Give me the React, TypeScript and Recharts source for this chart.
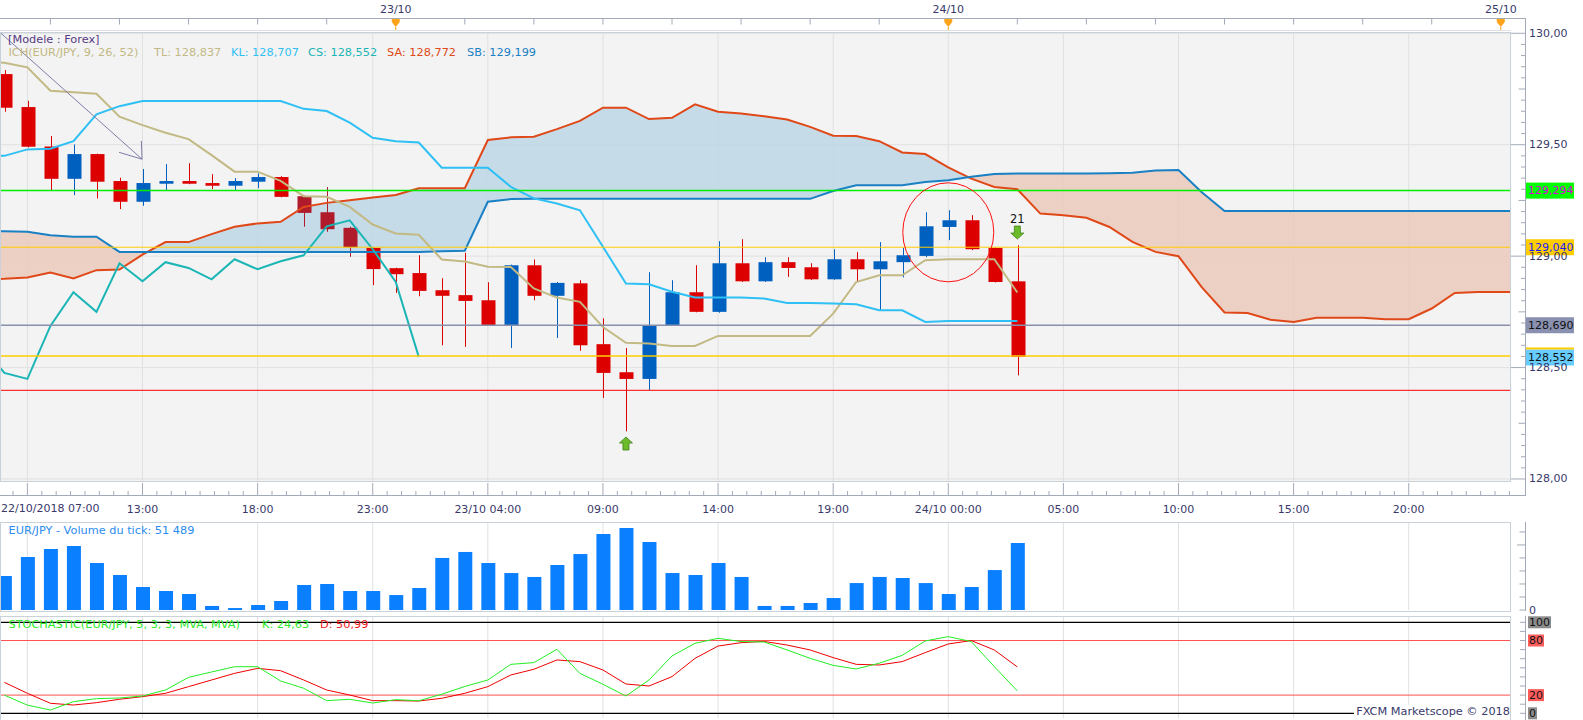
import {
  Area,
  Bar,
  CartesianGrid,
  ComposedChart,
  Line,
  ReferenceDot,
  ReferenceLine,
  XAxis,
  YAxis,
} from "recharts";

// hourly candles, index 0 = 22/10/2018 07:00
const candleOpen = [129.817, 129.669, 129.492, 129.347, 129.458, 129.337, 129.244, 129.325, 129.337, 129.328, 129.316, 129.334, 129.355, 129.269, 129.197, 129.127, 129.037, 128.946, 128.924, 128.847, 128.825, 128.802, 128.69, 128.959, 128.822, 128.878, 128.605, 128.479, 128.449, 128.69, 128.838, 128.75, 128.968, 128.887, 128.973, 128.95, 128.896, 128.986, 128.941, 128.973, 129.001, 129.131, 129.161, 129.037, 128.887];
const candleHigh = [129.835, 129.697, 129.539, 129.501, 129.46, 129.352, 129.391, 129.413, 129.417, 129.368, 129.35, 129.371, 129.359, 129.272, 129.31, 129.132, 129.04, 128.948, 129.004, 128.901, 129.015, 128.883, 128.962, 128.985, 128.884, 128.892, 128.721, 128.588, 128.928, 128.892, 128.959, 129.067, 129.076, 128.995, 128.995, 128.968, 129.031, 129.018, 129.063, 129.037, 129.197, 129.206, 129.184, 129.04, 129.049];
const candleLow = [129.648, 129.488, 129.296, 129.274, 129.259, 129.211, 129.226, 129.296, 129.323, 129.301, 129.296, 129.305, 129.264, 129.132, 129.109, 128.997, 128.87, 128.835, 128.82, 128.6, 128.593, 128.688, 128.588, 128.802, 128.633, 128.575, 128.364, 128.214, 128.398, 128.688, 128.748, 128.746, 128.884, 128.884, 128.907, 128.893, 128.894, 128.887, 128.757, 128.905, 128.995, 129.072, 129.027, 128.882, 128.465];
const candleClose = [129.666, 129.491, 129.347, 129.458, 129.334, 129.244, 129.328, 129.337, 129.325, 129.316, 129.337, 129.355, 129.266, 129.194, 129.121, 129.04, 128.942, 128.919, 128.844, 128.822, 128.799, 128.69, 128.959, 128.822, 128.88, 128.6, 128.476, 128.449, 128.687, 128.838, 128.75, 128.968, 128.887, 128.973, 128.947, 128.896, 128.986, 128.941, 128.977, 129.004, 129.134, 129.161, 129.031, 128.884, 128.548];
// candles highlighted by the pattern finder
const patternCandles = [13, 14, 15];

// ichimoku lines, first value is index -1 (just off the left edge)
const tenkan = [129.875, 129.868, 129.847, 129.742, 129.735, 129.729, 129.626, 129.588, 129.554, 129.525, 129.453, 129.379, 129.379, 129.338, 129.269, 129.266, 129.221, 129.142, 129.102, 129.096, 128.985, 128.976, 128.952, 128.951, 128.855, 128.814, 128.795, 128.682, 128.611, 128.608, 128.597, 128.597, 128.642, 128.642, 128.642, 128.642, 128.642, 128.742, 128.884, 128.914, 128.914, 128.982, 128.986, 128.986, 128.986, 128.837];
const kijun = [129.455, 129.45, 129.479, 129.482, 129.516, 129.636, 129.673, 129.696, 129.696, 129.696, 129.696, 129.696, 129.696, 129.696, 129.661, 129.651, 129.599, 129.531, 129.516, 129.51, 129.397, 129.397, 129.397, 129.311, 129.259, 129.236, 129.206, 129.042, 128.877, 128.874, 128.84, 128.814, 128.814, 128.814, 128.81, 128.79, 128.79, 128.787, 128.784, 128.757, 128.757, 128.705, 128.709, 128.709, 128.709, 128.709];
const chikou = [128.6, 128.476, 128.449, 128.687, 128.838, 128.75, 128.968, 128.887, 128.973, 128.947, 128.896, 128.986, 128.941, 128.977, 129.004, 129.134, 129.161, 129.031, 128.884, 128.548];
const senkouA = [128.896, 128.898, 128.904, 128.927, 128.9, 128.937, 128.94, 129.007, 129.063, 129.063, 129.099, 129.132, 129.147, 129.154, 129.221, 129.239, 129.251, 129.263, 129.274, 129.305, 129.305, 129.305, 129.521, 129.533, 129.536, 129.57, 129.607, 129.666, 129.666, 129.615, 129.621, 129.681, 129.648, 129.64, 129.628, 129.613, 129.58, 129.54, 129.539, 129.516, 129.465, 129.458, 129.398, 129.348, 129.31, 129.3, 129.191, 129.184, 129.172, 129.131, 129.064, 129.019, 129.0, 128.862, 128.747, 128.745, 128.715, 128.705, 128.724, 128.723, 128.723, 128.717, 128.717, 128.765, 128.835, 128.839, 128.839, 128.839];
const senkouB = [129.112, 129.112, 129.109, 129.094, 129.087, 129.087, 129.019, 129.019, 129.019, 129.019, 129.019, 129.019, 129.019, 129.019, 129.019, 129.019, 129.019, 129.019, 129.019, 129.019, 129.022, 129.024, 129.244, 129.256, 129.257, 129.257, 129.257, 129.257, 129.257, 129.257, 129.257, 129.257, 129.257, 129.257, 129.257, 129.257, 129.257, 129.292, 129.318, 129.318, 129.318, 129.333, 129.341, 129.356, 129.369, 129.371, 129.371, 129.371, 129.371, 129.372, 129.374, 129.384, 129.386, 129.288, 129.203, 129.203, 129.203, 129.203, 129.203, 129.203, 129.203, 129.203, 129.203, 129.203, 129.203, 129.203, 129.203, 129.203];

const tickVolume = [26100, 40700, 46900, 49200, 36100, 26900, 17700, 14600, 12300, 3100, 1500, 3800, 6900, 19200, 20000, 14600, 14600, 11500, 16900, 40000, 44600, 36100, 28400, 25400, 34600, 43000, 58400, 63000, 52300, 28400, 26900, 36100, 25400, 3100, 3100, 5400, 9200, 20700, 25400, 24600, 20700, 12300, 17700, 30700, 51489];
const stochK = [20, 9, 3.6, 12.8, 16.1, 16.8, 19, 25.6, 39.5, 45.4, 51.2, 51.2, 35.5, 27.5, 13.9, 15.4, 11.3, 15, 13.8, 21, 29.5, 36.6, 53.8, 55.7, 70.3, 43.9, 31.9, 19, 36.6, 63, 76.9, 82.4, 78.8, 78.4, 69.6, 60.4, 52.7, 48.7, 55, 63.7, 79.5, 84.3, 78.8, 51.3, 24.63];
const stochD = [34, 22, 11, 9.1, 11.7, 15.4, 18.3, 22, 29.3, 36.6, 43.9, 49.4, 46.8, 36.6, 25.6, 20.1, 13.9, 13.9, 13.5, 16.5, 22, 29.3, 42.1, 48.4, 58.6, 56.8, 47.6, 32.2, 30, 40.3, 60.4, 73.9, 77.6, 79, 75, 69.6, 61.2, 53.8, 53.1, 56.8, 66.7, 76.2, 79.9, 69.6, 50.99];

// axis texts
const bottomLabels = ["", "13:00", "18:00", "23:00", "23/10 04:00", "09:00", "14:00", "19:00", "24/10 00:00", "05:00", "10:00", "15:00", "20:00"];
const dateLabels = ["23/10", "24/10", "25/10"];
const dateIndex = [17, 41, 65];

// horizontal levels drawn on the chart
const levelPrices = [129.294, 129.04, 128.69, 128.552, 128.398];
const levelTexts = ["129,294", "129,040", "128,690", "128,552", ""];

// annotations
const signalUp = { i: 27, price: 128.157 };
const signalDown = { i: 44, price: 129.108, text: "21" };
const circled = { i: 41, price: 129.107 };
const drawnArrow = [
  [{ x: -0.19, y: 130.004 }, { x: 5.98, y: 129.435 }],
  [{ x: 5.98, y: 129.435 }, { x: 5.95, y: 129.517 }],
  [{ x: 5.98, y: 129.435 }, { x: 4.98, y: 129.466 }],
];

const FONT = "'DejaVu Sans', Verdana, sans-serif";
const AXIS_TEXT = "#39396b";
const AXIS_LINE = "#a3abb8";
const FRAME = "#c9d1db";
const BULL = "#0060bf";
const BEAR = "#dd0000";
const BEAR_MARK = "#b01b2b";
const TL_C = "#c2b984";
const KL_C = "#2ec0f4";
const CS_C = "#1bb5b5";
const SA_C = "#e04818";
const SB_C = "#1a80c4";
const CLOUD_UP = "#bdd7e6";
const CLOUD_DOWN = "#ebcabc";

const X_DOMAIN: [number, number] = [-0.19, 65.4];
const PRICE_DOMAIN: [number, number] = [127.9865, 130.0058];
const VOL_DOMAIN: [number, number] = [0, 67630];
const STOCH_DOMAIN: [number, number] = [-5.16, 106.92];

type Row = Record<string, any>;
const rows: Row[] = [];
for (let i = -1; i <= 66; i++) {
  const r: Row = { i };
  if (i >= 0 && i < candleOpen.length) {
    r.o = candleOpen[i];
    r.h = candleHigh[i];
    r.l = candleLow[i];
    r.c = candleClose[i];
    r.range = [candleLow[i], candleHigh[i]];
    r.vol = tickVolume[i];
    r.k = stochK[i];
    r.d = stochD[i];
  }
  if (i + 1 < tenkan.length) r.tl = tenkan[i + 1];
  if (i + 1 < kijun.length) r.kl = kijun[i + 1];
  if (i + 1 < chikou.length) r.cs = chikou[i + 1];
  if (i + 1 < senkouA.length) {
    r.sa = senkouA[i + 1];
    r.sb = senkouB[i + 1];
    r.cloud = [senkouA[i + 1], senkouB[i + 1]];
  }
  rows.push(r);
}
const paneRows = rows.filter((r) => r.o != null);

// colour switch of the cloud where the two spans cross
const cloudStops = (() => {
  const n = senkouA.length;
  const out: { off: number; up: boolean }[] = [];
  let prev = senkouA[0] >= senkouB[0];
  out.push({ off: 0, up: prev });
  for (let k = 1; k < n; k++) {
    const d0 = senkouA[k - 1] - senkouB[k - 1];
    const d1 = senkouA[k] - senkouB[k];
    const up = d1 >= 0;
    if (up !== prev) {
      const t = (k - 1 + d0 / (d0 - d1)) / (n - 1);
      out.push({ off: t, up: prev }, { off: t, up });
      prev = up;
    }
  }
  out.push({ off: 1, up: prev });
  return out;
})();

const bottomTicks: number[] = [];
for (let v = 0.375; v <= 65.4; v += 0.625) bottomTicks.push(Math.round(v * 1000) / 1000);
const topTicks: number[] = [];
for (let v = 2; v <= 65; v += 3) topTicks.push(v);
const gridX = bottomLabels.map((_, k) => 1 + 5 * k);
const priceTicks = Array.from({ length: 41 }, (_, k) => Math.round((128 + k * 0.05) * 100) / 100);
const volTicks = [0, 10000, 20000, 30000, 40000, 50000, 60000];
const stochTicks = [0, 10, 20, 30, 40, 50, 60, 70, 80, 90, 100];

function Candle(props: any) {
  const { x, y, width, height, payload } = props;
  if (!payload || payload.o == null || !isFinite(y) || !isFinite(height)) return null;
  const { o, h, l, c, i } = payload;
  const top = Math.min(y, y + height);
  const bottom = Math.max(y, y + height);
  const span = h - l;
  const py = (v: number) => (span > 0 ? top + ((h - v) / span) * (bottom - top) : top);
  const cx = Math.round(x + width / 2) + 0.5;
  const color = c >= o ? BULL : patternCandles.includes(i) ? BEAR_MARK : BEAR;
  const bTop = py(Math.max(o, c));
  const bBot = py(Math.min(o, c));
  return (
    <g>
      <line x1={cx} x2={cx} y1={top} y2={bottom} stroke={color} strokeWidth={1} />
      <rect x={cx - 7} y={bTop} width={14} height={Math.max(1.5, bBot - bTop)} fill={color} />
    </g>
  );
}

function TopTick(props: any) {
  const { x, payload } = props;
  const d = dateIndex.indexOf(payload?.value);
  return (
    <g>
      <line x1={x} x2={x} y1={18.5} y2={24.5} stroke={AXIS_LINE} />
      {d >= 0 && (
        <g>
          <text x={x} y={9} textAnchor="middle" dominantBaseline="central" fontSize={11} fill={AXIS_TEXT} fontFamily={FONT}>
            {dateLabels[d]}
          </text>
          <path d={`M${x - 4},19 L${x + 4},19 L${x + 4},22 L${x},27 L${x - 4},22 Z`} fill="#ffa31a" />
          <line x1={x} x2={x} y1={27} y2={31} stroke="#ffa31a" />
        </g>
      )}
    </g>
  );
}

function BottomTick(props: any) {
  const { x, payload } = props;
  const k = (payload.value - 1) / 5;
  const major = Math.abs(k - Math.round(k)) < 1e-6;
  const label = major ? bottomLabels[Math.round(k)] : "";
  return (
    <g>
      <line x1={x} x2={x} y1={major ? 483 : 491} y2={495.5} stroke={AXIS_LINE} />
      {label && (
        <text x={x} y={509} textAnchor="middle" dominantBaseline="central" fontSize={11} fill={AXIS_TEXT} fontFamily={FONT}>
          {label}
        </text>
      )}
    </g>
  );
}

function PriceTick(props: any) {
  const { y, payload } = props;
  const v = payload.value;
  const m = Math.round(v * 100);
  const isLabel = m % 50 === 0;
  const len = isLabel ? 15 : m % 25 === 0 ? 7 : 4.5;
  return (
    <g>
      <line x1={1525.5 - len} x2={1525.5} y1={y} y2={y} stroke={AXIS_LINE} />
      {isLabel && (
        <text x={1529} y={y} dominantBaseline="central" fontSize={11} fill={AXIS_TEXT} fontFamily={FONT}>
          {v.toFixed(2).replace(".", ",")}
        </text>
      )}
    </g>
  );
}

function VolTick(props: any) {
  const { y, payload } = props;
  const v = payload.value;
  return (
    <g>
      <line x1={v === 50000 ? 1517 : 1519.5} x2={1525.5} y1={y} y2={y} stroke={AXIS_LINE} />
      {v === 0 && (
        <text x={1529} y={y} dominantBaseline="central" fontSize={11} fill={AXIS_TEXT} fontFamily={FONT}>
          0
        </text>
      )}
    </g>
  );
}

function StochTick(props: any) {
  const { y, payload } = props;
  const v = payload.value;
  const tag = v === 100 || v === 0 ? "#8c8c8c" : v === 80 || v === 20 ? "#ff5c5c" : null;
  const txt = String(v);
  const w = txt.length * 7 + 2;
  return (
    <g>
      <line x1={1520} x2={1525.5} y1={y} y2={y} stroke={AXIS_LINE} />
      {tag && (
        <g>
          <rect x={1528} y={y - 6} width={w} height={12} fill={tag} />
          <text x={1529} y={y} dominantBaseline="central" fontSize={11} fill="#111" fontFamily={FONT}>
            {txt}
          </text>
        </g>
      )}
    </g>
  );
}

function PriceTag(props: any) {
  const { viewBox, text, bg, color, stripe } = props;
  if (!viewBox || !text) return null;
  const y = viewBox.y + (props.shift || 0);
  return (
    <g>
      <rect x={1526} y={y - 8} width={48} height={16} fill={bg} />
      {stripe && <rect x={1526} y={y - 10} width={48} height={2} fill={stripe} />}
      <text x={1528} y={y} dominantBaseline="central" fontSize={11} fill={color} fontFamily={FONT}>
        {text}
      </text>
    </g>
  );
}

const levelStyles = [
  { stroke: "#00ee00", width: 1.5, bg: "#00ff00", color: "#dd00dd" },
  { stroke: "#ffcc00", width: 1, bg: "#ffcc00", color: "#1a1aff" },
  { stroke: "#8a90ab", width: 1.3, bg: "#8a90b0", color: "#111" },
  { stroke: "#ffcc00", width: 1.5, bg: "#66ccff", color: "#111", stripe: "#ffcc00", shift: 1.5 },
  { stroke: "#ff0000", width: 1, bg: "none", color: "none" },
];

function UpArrow({ cx, cy }: any) {
  return (
    <path
      d={`M${cx},${cy - 7} L${cx + 6.5},${cy - 1} L${cx + 3},${cy - 1} L${cx + 3},${cy + 6} L${cx - 3},${cy + 6} L${cx - 3},${cy - 1} L${cx - 6.5},${cy - 1} Z`}
      fill="#6cbb2a"
      stroke="#3f8215"
      strokeWidth={0.8}
    />
  );
}

function DownArrow({ cx, cy }: any) {
  return (
    <g>
      <path
        d={`M${cx},${cy + 7} L${cx + 6.5},${cy + 1} L${cx + 3},${cy + 1} L${cx + 3},${cy - 6} L${cx - 3},${cy - 6} L${cx - 3},${cy + 1} L${cx - 6.5},${cy + 1} Z`}
        fill="#6cbb2a"
        stroke="#3f8215"
        strokeWidth={0.8}
      />
      <text x={cx} y={cy - 13} textAnchor="middle" dominantBaseline="central" fontSize={11.5} fill="#111" fontFamily={FONT}>
        {signalDown.text}
      </text>
    </g>
  );
}

const legend = [
  { text: "ICH(EUR/JPY, 9, 26, 52)", color: TL_C, left: 8.5 },
  { text: "TL: 128,837", color: TL_C, left: 154 },
  { text: "KL: 128,707", color: KL_C, left: 231 },
  { text: "CS: 128,552", color: CS_C, left: 308 },
  { text: "SA: 128,772", color: SA_C, left: 387 },
  { text: "SB: 129,199", color: SB_C, left: 467 },
];
const stochLegend = [
  { text: "STOCHASTIC(EUR/JPY, 5, 3, 3, MVA, MVA)", color: "#2ee82e", left: 8.5 },
  { text: "K: 24,63", color: "#2ee82e", left: 262 },
  { text: "D: 50,99", color: "#ee1c1c", left: 320 },
];

function Label({ text, color, left, cy, size = 11.3, bg }: any) {
  return (
    <span
      style={{
        position: "absolute",
        left,
        top: cy - 7,
        lineHeight: "14px",
        fontSize: size,
        color,
        whiteSpace: "pre",
        background: bg,
      }}
    >
      {text}
    </span>
  );
}

export default function App() {
  return (
    <div
      style={{
        position: "absolute",
        left: 0,
        top: 0,
        width: 1583,
        height: 720,
        background: "#fff",
        overflow: "hidden",
        fontFamily: FONT,
      }}
    >
      <div style={{ position: "absolute", left: 0, top: 0 }}>
        <ComposedChart width={1583} height={522} data={rows} margin={{ top: 0, right: 0, bottom: 0, left: 0 }}>
          <defs>
            <linearGradient id="cloudFill" x1="0" y1="0" x2="1" y2="0">
              {cloudStops.map((s, k) => (
                <stop key={k} offset={s.off} stopColor={s.up ? CLOUD_UP : CLOUD_DOWN} />
              ))}
            </linearGradient>
          </defs>
          <CartesianGrid stroke="#e0e0e0" fill="#f3f3f3" verticalValues={gridX} horizontalValues={[128, 128.5, 129, 129.5, 130]} />
          <XAxis
            dataKey="i"
            type="number"
            domain={X_DOMAIN}
            allowDataOverflow
            ticks={bottomTicks}
            interval={0}
            height={40}
            tick={<BottomTick />}
            tickLine={false}
            axisLine={false}
          />
          <XAxis
            xAxisId="top"
            orientation="top"
            dataKey="i"
            type="number"
            domain={X_DOMAIN}
            allowDataOverflow
            ticks={topTicks}
            interval={0}
            height={32}
            tick={<TopTick />}
            tickLine={false}
            axisLine={false}
          />
          <YAxis
            orientation="right"
            type="number"
            domain={PRICE_DOMAIN}
            allowDataOverflow
            ticks={priceTicks}
            interval={0}
            width={73}
            tick={<PriceTick />}
            tickLine={false}
            axisLine={false}
          />
          <Area dataKey="cloud" type="linear" stroke="none" fill="url(#cloudFill)" fillOpacity={0.85} dot={false} activeDot={false} isAnimationActive={false} />
          <Bar dataKey="range" barSize={14} shape={(p: any) => <Candle {...p} />} isAnimationActive={false} />
          <Line dataKey="sa" stroke={SA_C} strokeWidth={2} dot={false} activeDot={false} isAnimationActive={false} />
          <Line dataKey="sb" stroke={SB_C} strokeWidth={2} dot={false} activeDot={false} isAnimationActive={false} />
          <Line dataKey="tl" stroke={TL_C} strokeWidth={2} dot={false} activeDot={false} isAnimationActive={false} />
          <Line dataKey="kl" stroke={KL_C} strokeWidth={2} dot={false} activeDot={false} isAnimationActive={false} />
          <Line dataKey="cs" stroke={CS_C} strokeWidth={2} dot={false} activeDot={false} isAnimationActive={false} />
          {levelPrices.map((p, k) => (
            <ReferenceLine
              key={`lv${k}`}
              y={p}
              stroke={levelStyles[k].stroke}
              strokeWidth={levelStyles[k].width}
              label={
                <PriceTag
                  text={levelTexts[k]}
                  bg={levelStyles[k].bg}
                  color={levelStyles[k].color}
                  stripe={levelStyles[k].stripe}
                  shift={levelStyles[k].shift}
                />
              }
            />
          ))}
          {drawnArrow.map((seg, k) => (
            <ReferenceLine key={`ar${k}`} segment={seg} stroke="#7d7da8" strokeWidth={1} ifOverflow="visible" />
          ))}
          <ReferenceDot
            x={circled.i}
            y={circled.price}
            r={45}
            ifOverflow="visible"
            shape={(p: any) => <ellipse cx={p.cx} cy={p.cy} rx={45.5} ry={49.5} fill="none" stroke="#ff1010" strokeWidth={1} />}
          />
          <ReferenceDot x={signalUp.i} y={signalUp.price} r={7} ifOverflow="visible" shape={(p: any) => <UpArrow cx={p.cx} cy={p.cy} />} />
          <ReferenceDot x={signalDown.i} y={signalDown.price} r={7} ifOverflow="visible" shape={(p: any) => <DownArrow cx={p.cx} cy={p.cy} />} />
        </ComposedChart>
      </div>

      <div style={{ position: "absolute", left: 0, top: 522 }}>
        <ComposedChart width={1583} height={96} data={paneRows} margin={{ top: 0, right: 0, bottom: 8, left: 0 }}>
          <CartesianGrid stroke="#e0e0e0" fill="#ffffff" horizontal={false} verticalValues={gridX} />
          <XAxis dataKey="i" type="number" domain={X_DOMAIN} allowDataOverflow hide />
          <YAxis
            orientation="right"
            type="number"
            domain={VOL_DOMAIN}
            allowDataOverflow
            ticks={volTicks}
            interval={0}
            width={73}
            tick={<VolTick />}
            tickLine={false}
            axisLine={false}
          />
          <Bar dataKey="vol" barSize={14} fill="#0a7fff" isAnimationActive={false} />
        </ComposedChart>
      </div>

      <div style={{ position: "absolute", left: 0, top: 616 }}>
        <ComposedChart width={1583} height={104} data={paneRows} margin={{ top: 0, right: 0, bottom: 2, left: 0 }}>
          <CartesianGrid stroke="#e0e0e0" fill="#ffffff" horizontal={false} verticalValues={gridX} />
          <XAxis dataKey="i" type="number" domain={X_DOMAIN} allowDataOverflow hide />
          <YAxis
            orientation="right"
            type="number"
            domain={STOCH_DOMAIN}
            allowDataOverflow
            ticks={stochTicks}
            interval={0}
            width={73}
            tick={<StochTick />}
            tickLine={false}
            axisLine={false}
          />
          <ReferenceLine y={100} stroke="#000" strokeWidth={1.3} />
          <ReferenceLine y={80} stroke="#ff5050" strokeWidth={1} />
          <ReferenceLine y={20} stroke="#ff5050" strokeWidth={1} />
          <ReferenceLine y={0} stroke="#000" strokeWidth={1.3} />
          <Line dataKey="d" stroke="#ee0000" strokeWidth={1} dot={false} activeDot={false} isAnimationActive={false} />
          <Line dataKey="k" stroke="#22ee22" strokeWidth={1} dot={false} activeDot={false} isAnimationActive={false} />
        </ComposedChart>
      </div>

      <svg width={1583} height={720} style={{ position: "absolute", left: 0, top: 0, pointerEvents: "none" }}>
        <g fill="none" shapeRendering="crispEdges">
          <line x1={0} x2={1526} y1={18.5} y2={18.5} stroke={AXIS_LINE} />
          <line x1={0} x2={1511} y1={30.5} y2={30.5} stroke="#dde2e8" />
          <rect x={0.5} y={32.5} width={1510} height={449} stroke={FRAME} strokeWidth={1.5} />
          <line x1={1525.5} x2={1525.5} y1={18} y2={496} stroke={AXIS_LINE} />
          <line x1={0} x2={1526} y1={495.5} y2={495.5} stroke={AXIS_LINE} />
          <rect x={0.5} y={522.5} width={1510} height={89} stroke={FRAME} />
          <line x1={1525.5} x2={1525.5} y1={522} y2={611} stroke={AXIS_LINE} />
          <rect x={0.5} y={616.5} width={1510} height={104} stroke={FRAME} />
          <line x1={1525.5} x2={1525.5} y1={616} y2={720} stroke={AXIS_LINE} />
        </g>
      </svg>

      <Label text="[Modele : Forex]" color="#573a84" left={8} cy={40} />
      {legend.map((l) => (
        <Label key={l.text} text={l.text} color={l.color} left={l.left} cy={53} />
      ))}
      <Label text="22/10/2018 07:00" color={AXIS_TEXT} left={1} cy={509} size={11} />
      <Label text="EUR/JPY - Volume du tick: 51 489" color="#2a8cf0" left={8.5} cy={531} />
      {stochLegend.map((l) => (
        <Label key={l.text} text={l.text} color={l.color} left={l.left} cy={624.5} />
      ))}
      <span
        style={{
          position: "absolute",
          right: 73,
          top: 705,
          lineHeight: "14px",
          fontSize: 11.3,
          color: "#39396b",
          background: "#fff",
          paddingLeft: 2,
          whiteSpace: "pre",
        }}
      >
        FXCM Marketscope © 2018
      </span>
    </div>
  );
}
